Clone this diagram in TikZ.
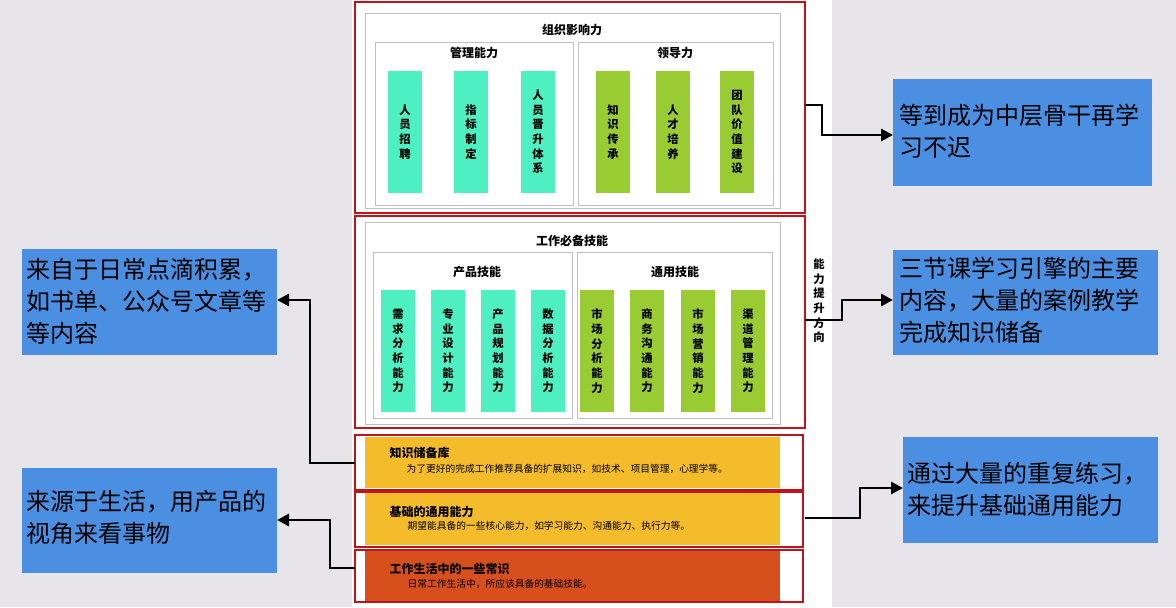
\documentclass[tikz,border=0pt]{standalone}
\usepackage{fontspec}
\setmainfont{Noto Sans CJK SC}
\usetikzlibrary{arrows.meta}
\definecolor{bg}{HTML}{E7E5EA}
\definecolor{teal}{HTML}{4EF0C2}
\definecolor{lgreen}{HTML}{99CC33}
\definecolor{yel}{HTML}{F4BC2A}
\definecolor{org}{HTML}{D84F1E}
\definecolor{blu}{HTML}{4A8FE2}
\definecolor{redb}{HTML}{C0141C}
\tikzset{
 redbox/.style={draw=redb,line width=1.8pt},
 graybox/.style={draw=black!25,line width=0.6pt,fill=white},
 bar/.style={minimum width=25pt,inner sep=0pt,font=\bfseries\fontsize{8.5}{11}\selectfont,align=center},
 hd/.style={font=\bfseries\fontsize{9}{10}\selectfont},
 sub/.style={font=\fontsize{7.3}{8}\selectfont,anchor=west},
 btxt/.style={font=\fontsize{18}{24}\selectfont,align=left,anchor=north west},
 conn/.style={line width=2.2pt,-{Triangle[length=9pt,width=9pt]}},
}
\begin{document}
\begin{tikzpicture}[x=0.75pt,y=-0.75pt]
\fill[bg] (0,0) rectangle (1176,607);
\fill[white] (352,0) rectangle (832,607);
\useasboundingbox (0,0) rectangle (1176,607);
% top section
\draw[graybox] (365,13) rectangle (780,208);
\node[hd] (t1) at (572,30) {组织影响力};
\draw[graybox] (375,42) rectangle (573,205);
\draw[graybox] (578,42) rectangle (773,205);
\node[hd] (m1) at (474,53) {管理能力};
\node[hd] (m2) at (675,53) {领导力};
\foreach \x/\t [count=\i] in {405/人\\员\\招\\聘,471/指\\标\\制\\定,538/人\\员\\晋\\升\\体\\系}
  \node[bar,fill=teal,minimum height=92pt] (a\i) at (\x,132) {\t};
\foreach \x/\t [count=\i] in {613/知\\识\\传\\承,673/人\\才\\培\\养,737/团\\队\\价\\值\\建\\设}
  \node[bar,fill=lgreen,minimum height=92pt] (b\i) at (\x,132) {\t};
\draw[redbox] (355,2) rectangle (805,213);
% second section
\draw[graybox] (365,222) rectangle (780,424);
\node[hd] (t2) at (572,241) {工作必备技能};
\draw[graybox] (373,252) rectangle (572,418);
\draw[graybox] (577,252) rectangle (772,418);
\node[hd] (p1) at (477,272) {产品技能};
\node[hd] (p2) at (675,272) {通用技能};
\foreach \x/\t [count=\i] in {398/需\\求\\分\\析\\能\\力,448/专\\业\\设\\计\\能\\力,498/产\\品\\规\\划\\能\\力,548/数\\据\\分\\析\\能\\力}
  \node[bar,fill=teal,minimum height=92pt] (c\i) at (\x,351) {\t};
\foreach \x/\t [count=\i] in {597/市\\场\\分\\析\\能\\力,647/商\\务\\沟\\通\\能\\力,698/市\\场\\营\\销\\能\\力,748/渠\\道\\管\\理\\能\\力}
  \node[bar,fill=lgreen,minimum height=92pt] (d\i) at (\x,351) {\t};
\draw[redbox] (355,216) rectangle (805,428);
\node[font=\bfseries\fontsize{8.5}{11}\selectfont,align=center] (dir) at (819,301) {能\\力\\提\\升\\方\\向};
% bottom layers
\fill[yel] (365,437) rectangle (780,488);
\node[hd,anchor=west] (k1) at (385,453) {知识储备库};
\node[sub] (k2) at (402,469) {为了更好的完成工作推荐具备的扩展知识，如技术、项目管理，心理学等。};
\draw[redbox] (355,435) rectangle (803,490);
\fill[yel] (365,492) rectangle (780,545);
\node[hd,anchor=west] (g1) at (385,512) {基础的通用能力};
\node[sub] (g2) at (403,526) {期望能具备的一些核心能力，如学习能力、沟通能力、执行力等。};
\draw[redbox] (355,492) rectangle (803,547);
\fill[org] (365,549) rectangle (780,601);
\node[hd,anchor=west] (h1) at (385,569) {工作生活中的一些常识};
\node[sub] (h2) at (403,584) {日常工作生活中，所应该具备的基础技能。};
\draw[redbox] (355,550) rectangle (803,602);
% blue boxes
\fill[blu] (893,79) rectangle (1152,186);
\node[btxt] (e1) at (895,99) {等到成为中层骨干再学\\习不迟};
\fill[blu] (893,250) rectangle (1158,355);
\node[btxt] (e2) at (895,252) {三节课学习引擎的主要\\内容，大量的案例教学\\完成知识储备};
\fill[blu] (903,437) rectangle (1158,543);
\node[btxt] (e3) at (903,457) {通过大量的重复练习，\\来提升基础通用能力};
\fill[blu] (22,249) rectangle (277,355);
\node[btxt] (f1) at (22,253) {来自于日常点滴积累，\\如书单、公众号文章等\\等内容};
\fill[blu] (22,468) rectangle (277,573);
\node[btxt] (f2) at (22,486) {来源于生活，用产品的\\视角来看事物};
% connectors
\draw[conn] (805,105) -- (822,105) -- (822,135) -- (893,135);
\draw[conn] (805,320) -- (842,320) -- (842,300) -- (893,300);
\draw[conn] (805,518) -- (860,518) -- (860,488) -- (903,488);
\draw[conn] (355,463) -- (310,463) -- (310,300) -- (277,300);
\draw[conn] (355,568) -- (330,568) -- (330,520) -- (277,520);
\end{tikzpicture}
\end{document}
